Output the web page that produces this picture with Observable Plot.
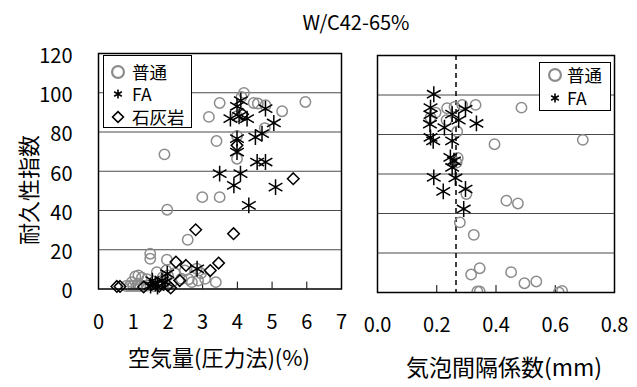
<!DOCTYPE html>
<html><head><meta charset="utf-8">
<script src="https://cdn.jsdelivr.net/npm/d3@7"></script>
<script src="https://cdn.jsdelivr.net/npm/@observablehq/plot@0.6"></script>
<style>
body{margin:0;background:#fff;font-family:"Noto Sans CJK JP","Noto Sans",sans-serif;}
#wrap{position:relative;width:637px;height:387px;overflow:hidden;background:#fff;}
#wrap > *{position:absolute;}
.t{white-space:nowrap;color:#000;line-height:1;}
.legend{box-sizing:border-box;border:1.5px solid #000;background:#fff;}
.legend > *{position:absolute;}
</style></head><body><div id="wrap"></div>
<script>
// ---- text ----
const chartTitle = "W/C42-65%";
const yLabel = "耐久性指数";
const xLabelAir = "空気量(圧力法)(%)";
const xLabelSpacing = "気泡間隔係数(mm)";
const seriesNames = ["普通", "FA", "石灰岩"];

// ---- ticks ----
const yTicks = [0, 20, 40, 60, 80, 100, 120];
const gridTicks = [20, 40, 60, 80, 100];
const airTicks = [0, 1, 2, 3, 4, 5, 6, 7];
const spacingTicks = [0, 0.2, 0.4, 0.6, 0.8];
const spacingLimit = [0.265];

// ---- left panel: air content (%) vs durability index ----
const airNormal = [[4.19,99.9],[4.12,97.9],[3.49,94.8],[5.96,95.3],[4.47,94.8],[4.59,94.5],[4.81,93.6],[5.29,90.6],[3.18,87.7],[3.99,88.0],[4.79,82.0],[3.40,75.4],[3.99,78.0],[3.99,66.4],[1.90,68.6],[2.99,46.8],[3.49,46.8],[1.98,40.4],[2.57,25.1],[1.49,18.0],[1.49,15.4],[1.97,14.9],[1.68,8.6],[3.38,3.5],[2.87,4.3],[2.69,3.5],[2.39,5.2],[2.00,6.9],[1.95,9.4],[2.49,9.4],[2.83,10.3],[3.07,5.2],[1.06,6.4],[1.15,6.9],[1.25,5.7],[0.96,3.5],[1.15,2.7],[0.8,1.5],[0.9,1.5],[1.0,1.5],[1.1,1.5],[1.2,1.5],[1.3,1.5],[1.4,1.8],[1.6,1.5],[1.75,2.5],[2.1,3],[2.2,8],[2.6,5],[2.95,8],[1.85,6],[1.4,5]];
const airFA = [[3.99,93.1],[4.1,96],[3.80,86.8],[4.28,86.8],[4.05,88],[4.81,91.9],[5.05,84.6],[4.52,77.4],[4.71,79.2],[3.99,76.6],[3.99,69.8],[4.57,64.7],[4.81,64.7],[3.49,58.8],[4.09,58.8],[3.90,52.8],[5.10,51.9],[4.33,42.6],[1.5,1.8],[1.55,4.3],[1.64,2.7],[1.83,4.3],[1.92,3.5],[1.98,7.8],[2.84,10.3],[1.7,1.2]];
const airLime = [[3.99,73.2],[5.61,56.2],[2.80,30.2],[3.89,28.2],[2.23,13.7],[2.52,12.0],[3.46,13.2],[3.22,9.4],[0.53,1.3],[0.62,1.3],[2.08,0.5],[2.34,4.3],[2.0,1.8],[1.3,1],[1.75,1.5],[4.15,89]];

// ---- right panel: bubble spacing factor (mm) vs durability index ----
const spacingNormal = [[0.235,93.3],[0.286,95],[0.331,95],[0.26,94],[0.196,91.1],[0.179,88.6],[0.233,87.3],[0.269,81.5],[0.395,75.1],[0.271,68.1],[0.267,65.8],[0.30,49.9],[0.435,46.5],[0.474,45.1],[0.486,93.6],[0.693,77.3],[0.278,35.5],[0.325,29.2],[0.345,12.3],[0.316,9.1],[0.451,10.3],[0.496,4.7],[0.536,5.6],[0.337,0.5],[0.345,0.5],[0.612,0],[0.623,0.8]];
const spacingFA = [[0.19,100.4],[0.179,93.6],[0.179,90],[0.252,90.3],[0.297,92.8],[0.274,87.3],[0.334,85.6],[0.226,83.5],[0.177,85.2],[0.179,78.5],[0.188,76.8],[0.252,76.8],[0.246,68.4],[0.258,66.7],[0.252,63.3],[0.19,58.3],[0.263,58],[0.222,51.2],[0.297,52.4],[0.291,42.3]];

// ---- styles ----
const FONT = '"Noto Sans CJK JP","Noto Sans",sans-serif';
const GRAY = "#8c8c8c";
const X = d => d[0], Y = d => d[1];

const wrap = document.getElementById("wrap");

function txt(s, cx, cy, size, anchor = "middle", rotate = 0) {
  const el = document.createElement("div");
  el.className = "t";
  el.textContent = s;
  el.style.left = cx + "px";
  el.style.top = cy + "px";
  el.style.fontSize = size + "px";
  const tx = anchor === "middle" ? "-50%" : "0";
  el.style.transform = `translate(${tx},-50%)` + (rotate ? ` rotate(${rotate}deg)` : "");
  return el;
}

const baseStyle = {fontFamily: FONT, fontSize: "20px", color: "#000", background: "transparent", overflow: "visible"};

const left = Plot.plot({
  width: 350, height: 340,
  marginLeft: 98, marginRight: 9, marginTop: 53, marginBottom: 51.5,
  style: baseStyle,
  x: {domain: [0, 7]},
  y: {domain: [0, 120]},
  marks: [
    Plot.ruleY(gridTicks, {stroke: "#4a4a4a", strokeWidth: 1}),
    Plot.ruleX(airTicks.slice(1, -1), {y1: 0, y2: 3.5, stroke: "#000", strokeWidth: 1}),
    Plot.dot(airNormal, {x: X, y: Y, r: 5.2, stroke: GRAY, strokeWidth: 1.5}),
    Plot.dot(airFA, {x: X, y: Y, r: 7.5, symbol: "asterisk", stroke: "#000", strokeWidth: 1.5}),
    Plot.dot(airLime, {x: X, y: Y, r: 5.2, symbol: "diamond2", fill: "none", stroke: "#000", strokeWidth: 1.5}),
    Plot.frame({stroke: "#000", strokeWidth: 1.5}),
    Plot.axisX({ticks: airTicks, tickSize: 0, tickPadding: 26, tickFormat: d => String(d), label: null}),
    Plot.axisY({ticks: yTicks, tickSize: 0, tickPadding: 26, dy: 3, label: null})
  ]
});
left.style.left = "0px"; left.style.top = "0px";
wrap.appendChild(left);

const right = Plot.plot({
  width: 297, height: 340,
  marginLeft: 37, marginRight: 23, marginTop: 55, marginBottom: 48,
  style: baseStyle,
  x: {domain: [0, 0.8]},
  y: {domain: [0, 120], axis: null},
  marks: [
    Plot.ruleY(gridTicks, {stroke: "#4a4a4a", strokeWidth: 1}),
    Plot.ruleX(spacingTicks.slice(1, -1), {y1: 0, y2: 3.5, stroke: "#000", strokeWidth: 1}),
    Plot.ruleX(spacingLimit, {stroke: "#000", strokeWidth: 1.5, strokeDasharray: "5,4"}),
    Plot.dot(spacingNormal, {x: X, y: Y, r: 5.2, stroke: GRAY, strokeWidth: 1.5, clip: true}),
    Plot.dot(spacingFA, {x: X, y: Y, r: 7.5, symbol: "asterisk", stroke: "#000", strokeWidth: 1.5, clip: true}),
    Plot.frame({stroke: "#000", strokeWidth: 1.5}),
    Plot.axisX({ticks: spacingTicks, tickSize: 0, tickPadding: 25, tickFormat: d3.format(".1f"), label: null})
  ]
});
right.style.left = "340px"; right.style.top = "0px";
wrap.appendChild(right);

// ---- titles ----
wrap.appendChild(txt(chartTitle, 356, 22, 20));
wrap.appendChild(txt(yLabel, 27, 190, 22, "middle", -90));
wrap.appendChild(txt(xLabelAir, 219, 356, 22));
wrap.appendChild(txt(xLabelSpacing, 504, 366, 23));

// ---- legends ----
const markerDefs = [
  {type: d3.symbolCircle, size: 110, stroke: GRAY, sw: 2.2},
  {type: d3.symbolAsterisk, size: 55, stroke: "#000", sw: 1.6},
  {type: d3.symbolDiamond2, size: 75, stroke: "#000", sw: 1.6}
];
function legend(x, y, w, h, names, rowY, markX, textX) {
  const box = document.createElement("div");
  box.className = "legend";
  Object.assign(box.style, {left: x + "px", top: y + "px", width: w + "px", height: h + "px"});
  names.forEach((name, i) => {
    const m = markerDefs[i];
    const svg = d3.create("svg").attr("width", 20).attr("height", 20)
      .style("left", (markX - 10) + "px").style("top", (rowY[i] - 10) + "px");
    svg.append("path").attr("transform", "translate(10,10)")
      .attr("d", d3.symbol(m.type, m.size)()).attr("fill", "none")
      .attr("stroke", m.stroke).attr("stroke-width", m.sw);
    box.appendChild(svg.node());
    box.appendChild(txt(name, textX, rowY[i], 17.5, "start"));
  });
  wrap.appendChild(box);
}
legend(103, 55, 89, 73, seriesNames, [15.5, 38, 60.5], 14, 28);
legend(539, 62, 72, 49, seriesNames.slice(0, 2), [12, 35], 15, 27);
</script></body></html>
